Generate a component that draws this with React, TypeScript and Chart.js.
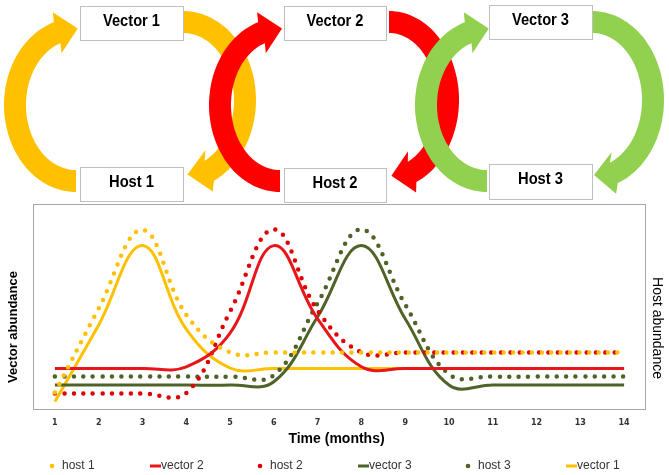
import React, { useEffect, useRef } from 'react';
import { Chart, registerables } from 'chart.js';

Chart.register(...registerables);

// ---------- data ----------
const MONTHS = [1, 2, 3, 4, 5, 6, 7, 8, 9, 10, 11, 12, 13, 14];
const HOST_1 = [8, 49, 87.3, 46, 27.6, 27.6, 27.6, 27.6, 27.6, 27.6, 27.6, 27.6, 27.6, 27.6];
const VECTOR_2 = [19.8, 19.8, 19.8, 20.6, 37, 79.7, 44, 20.6, 19.8, 19.8, 19.8, 19.8, 19.8, 19.8];
const HOST_2 = [7.6, 7.6, 7.6, 7.8, 47.5, 87.6, 48, 27.6, 27.6, 27.6, 27.6, 27.6, 27.6, 27.6];
const VECTOR_3 = [11.7, 11.7, 11.7, 11.7, 11.7, 13.3, 45, 79.7, 44, 11.7, 11.7, 11.7, 11.7, 11.7];
const HOST_3 = [15.8, 15.8, 15.8, 15.8, 15.8, 16.5, 51.7, 87.6, 51, 17, 15.8, 15.8, 15.8, 15.8];
const VECTOR_1 = [3.6, 41, 79.7, 39, 20, 19.8, 19.8, 19.8, 19.8, 19.8, 19.8, 19.8, 19.8, 19.8];

const SERIES_LABELS = ['host 1', 'vector 2', 'host 2', 'vector 3', 'host 3', 'vector 1'];
const SERIES_VALUES = [HOST_1, VECTOR_2, HOST_2, VECTOR_3, HOST_3, VECTOR_1];
const SERIES_COLORS = ['#FFC000', '#E8161A', '#E00000', '#4F6228', '#4F6228', '#FFC000'];
const SERIES_DOTTED = [true, false, true, false, true, false];

const X_TITLE = 'Time (months)';
const Y_TITLE = 'Vector abundance';
const Y2_TITLE = 'Host abundance';

const BOX_LABELS = ['Vector 1', 'Host 1', 'Vector 2', 'Host 2', 'Vector 3', 'Host 3'];

// ---------- diagram geometry ----------
type Arrow = { cx: number; cy: number; rx: number; ry: number; w: number; t0: number; t1: number; dir: number; hw: number; hl: number; color: string };

const ARROWS: Arrow[] = [
  { cx: 76, cy: 105, rx: 61, ry: 76, w: 22, t0: 90, t1: 252, dir: -12, hw: 42, hl: 21, color: '#FFC000' },
  { cx: 183, cy: 100, rx: 62, ry: 78, w: 22, t0: -90, t1: 65, dir: 170, hw: 42, hl: 22, color: '#FFC000' },
  { cx: 389, cy: 100, rx: 59, ry: 78, w: 22, t0: -90, t1: 67, dir: 169, hw: 42, hl: 21, color: '#FF0000' },
  { cx: 280, cy: 105, rx: 60, ry: 76, w: 22, t0: 90, t1: 252, dir: -12, hw: 42, hl: 21, color: '#FF0000' },
  { cx: 592, cy: 100, rx: 61, ry: 78, w: 22, t0: -90, t1: 69, dir: 174, hw: 42, hl: 20, color: '#92D050' },
  { cx: 487, cy: 105, rx: 61, ry: 76, w: 22, t0: 90, t1: 252, dir: -12, hw: 42, hl: 21, color: '#92D050' },
];

const BOXES = [
  { x: 80, y: 6, w: 103, h: 34 },
  { x: 80, y: 167, w: 103, h: 34 },
  { x: 284, y: 6, w: 102, h: 34 },
  { x: 284, y: 168, w: 102, h: 34 },
  { x: 489, y: 5, w: 103, h: 34 },
  { x: 489, y: 164, w: 103, h: 35 },
];

function arrowPath(a: Arrow): string {
  const r = Math.PI / 180;
  const pts: [number, number][] = [];
  const N = 60;
  const P = (t: number, d: number): [number, number] => [a.cx + (a.rx + d) * Math.cos(t * r), a.cy + (a.ry + d) * Math.sin(t * r)];
  for (let i = 0; i <= N; i++) pts.push(P(a.t0 + ((a.t1 - a.t0) * i) / N, a.w / 2));
  const C = P(a.t1, 0);
  const hd = [Math.cos(a.dir * r), Math.sin(a.dir * r)];
  let perp = [-hd[1], hd[0]];
  const n = [a.ry * Math.cos(a.t1 * r), a.rx * Math.sin(a.t1 * r)];
  if (perp[0] * n[0] + perp[1] * n[1] < 0) perp = [-perp[0], -perp[1]];
  pts.push([C[0] + (perp[0] * a.hw) / 2, C[1] + (perp[1] * a.hw) / 2]);
  pts.push([C[0] + hd[0] * a.hl, C[1] + hd[1] * a.hl]);
  pts.push([C[0] - (perp[0] * a.hw) / 2, C[1] - (perp[1] * a.hw) / 2]);
  for (let i = N; i >= 0; i--) pts.push(P(a.t0 + ((a.t1 - a.t0) * i) / N, -a.w / 2));
  return 'M' + pts.map((p) => p[0].toFixed(1) + ',' + p[1].toFixed(1)).join('L') + 'Z';
}

const FONT = '"Liberation Sans", Arial, sans-serif';

const decorPlugin = {
  id: 'decor',
  beforeDatasetsDraw(chart: any) {
    const { ctx, chartArea } = chart;
    ctx.save();
    ctx.strokeStyle = '#A6A6A6';
    ctx.lineWidth = 1;
    ctx.strokeRect(chartArea.left + 0.5, chartArea.top + 0.5, chartArea.right - chartArea.left - 1, chartArea.bottom - chartArea.top);
    ctx.restore();
  },
  afterDraw(chart: any) {
    const { ctx, chartArea } = chart;
    ctx.save();
    ctx.fillStyle = '#000';
    ctx.textAlign = 'center';
    ctx.textBaseline = 'middle';
    // x title
    ctx.font = 'bold 14px ' + FONT;
    ctx.fillText(X_TITLE, (chartArea.left + chartArea.right) / 2 - 3, chartArea.bottom + 30);
    // left title
    ctx.save();
    ctx.font = 'bold 13px ' + FONT;
    ctx.translate(chartArea.left - 20, chartArea.bottom - 82);
    ctx.rotate(-Math.PI / 2);
    ctx.fillText(Y_TITLE, 0, 0);
    ctx.restore();
    // right title
    ctx.save();
    ctx.font = '14px ' + FONT;
    ctx.translate(chartArea.right + 11, chartArea.bottom - 81);
    ctx.rotate(Math.PI / 2);
    ctx.fillText(Y2_TITLE, 0, 0);
    ctx.restore();
    // legend
    ctx.font = '12px ' + FONT;
    ctx.textAlign = 'left';
    const ly = chartArea.bottom + 57;
    chart.data.datasets.forEach((ds: any, i: number) => {
      const base = 52 + i * 104;
      ctx.fillStyle = ds.borderColor;
      ctx.strokeStyle = ds.borderColor;
      let tx;
      if (SERIES_DOTTED[i]) {
        ctx.beginPath();
        ctx.arc(base, ly, 2.3, 0, Math.PI * 2);
        ctx.fill();
        tx = base + 10;
      } else {
        ctx.fillRect(base - 6, ly - 1.5, 11, 3);
        tx = base + 5;
      }
      ctx.fillStyle = '#333';
      ctx.fillText(ds.label, tx, ly);
    });
    ctx.restore();
  },
};

export default function App() {
  const ref = useRef<HTMLCanvasElement | null>(null);
  useEffect(() => {
    document.body.style.margin = '0';
    const canvas = ref.current;
    if (!canvas) return;
    const datasets = SERIES_LABELS.map((label, i) => ({
      label,
      data: SERIES_VALUES[i].map((y, k) => ({ x: MONTHS[k], y })),
      borderColor: SERIES_COLORS[i],
      backgroundColor: SERIES_COLORS[i],
      borderWidth: SERIES_DOTTED[i] ? 4.5 : 3,
      borderDash: SERIES_DOTTED[i] ? [0, 9.5] : [],
      borderCapStyle: SERIES_DOTTED[i] ? 'round' : 'butt',
      pointRadius: 0,
      tension: 0.4,
      fill: false,
    }));
    const chart = new Chart(canvas, {
      type: 'line',
      data: { datasets } as any,
      options: {
        animation: false,
        responsive: false,
        maintainAspectRatio: false,
        layout: { padding: { left: 33, right: 23, top: 204, bottom: 0 } },
        plugins: { legend: { display: false }, tooltip: { enabled: false } },
        scales: {
          x: {
            type: 'linear',
            min: 0.5,
            max: 14.5,
            grid: { display: false, drawTicks: false },
            border: { display: false },
            afterBuildTicks: (s: any) => {
              s.ticks = MONTHS.map((v) => ({ value: v }));
            },
            afterFit: (s: any) => {
              s.height = 66;
            },
            ticks: {
              autoSkip: false,
              maxRotation: 0,
              padding: 9,
              color: '#333',
              font: { family: '"DejaVu Sans", Verdana, sans-serif', size: 8, weight: 'bold' },
              callback: (v: any) => String(v),
            },
          },
          y: { display: false, min: 0, max: 100 },
        },
      } as any,
      plugins: [decorPlugin],
    });
    return () => chart.destroy();
  }, []);

  return (
    <div style={{ position: 'relative', width: 669, height: 475, background: '#fff' }}>
      <canvas ref={ref} width={669} height={475} style={{ position: 'absolute', left: 0, top: 0, display: 'block' }} />
      <svg width={669} height={205} style={{ position: 'absolute', left: 0, top: 0 }}>
        {ARROWS.map((a, i) => (
          <path key={i} d={arrowPath(a)} fill={a.color} />
        ))}
        {BOXES.map((b, i) => (
          <g key={'b' + i}>
            <rect x={b.x + 0.5} y={b.y + 0.5} width={b.w} height={b.h} fill="#fff" stroke="#BFBFBF" strokeWidth={1} />
            <text
              x={b.x + b.w / 2}
              y={b.y + 19.5}
              textAnchor="middle"
              fontFamily={FONT}
              fontWeight="bold"
              fontSize={16}
              fill="#000"
              textLength={BOX_LABELS[i].startsWith('Vector') ? 57 : 45}
              lengthAdjust="spacingAndGlyphs"
            >
              {BOX_LABELS[i]}
            </text>
          </g>
        ))}
      </svg>
    </div>
  );
}
